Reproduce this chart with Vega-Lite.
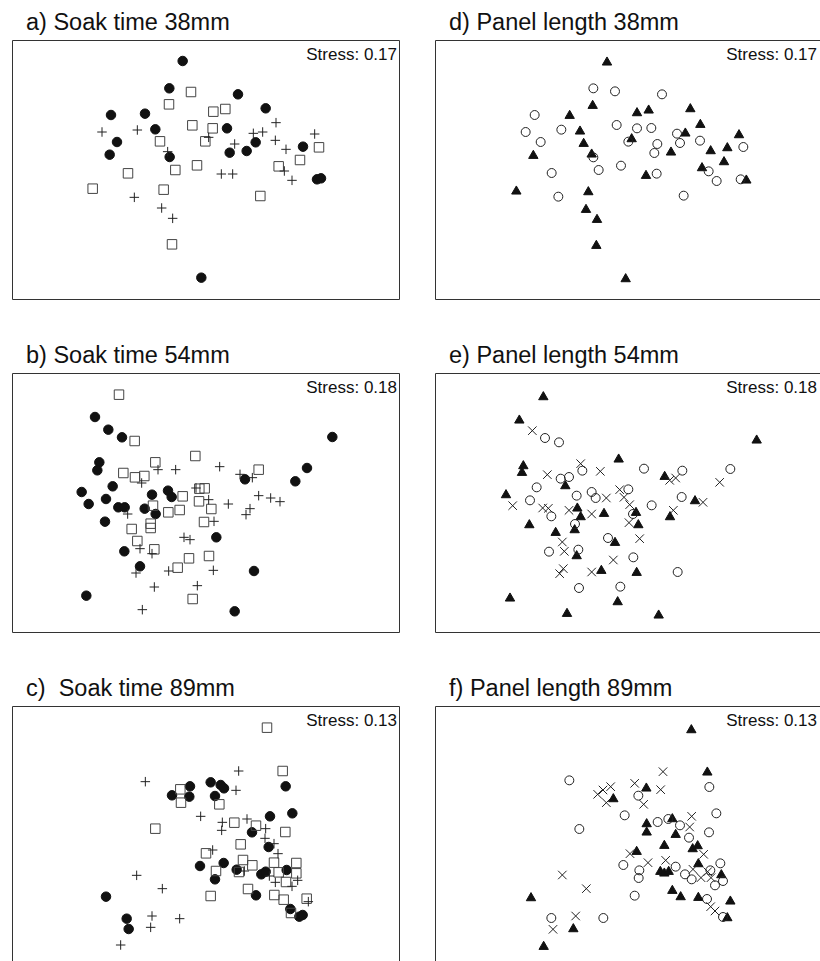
{
"$schema": "https://vega.github.io/schema/vega-lite/v6.json",
"background": "white",
"padding": {"left": 11, "top": 10, "right": 0, "bottom": 0},
"spacing": 43,
"config": {
  "view": {"stroke": "#333", "strokeWidth": 1},
  "title": {"anchor": "start", "frame": "group", "dx": 14, "offset": 6, "baseline": "alphabetic", "fontSize": 23.5, "font": "Liberation Sans", "fontWeight": "normal", "color": "#111"},
  "text": {"font": "Liberation Sans"}
},
"resolve": {"scale": {"x": "independent", "y": "independent", "shape": "independent", "fill": "independent", "stroke": "independent", "size": "independent"}},
"vconcat": [
{"hconcat": [
 {"title": {"text": "a) Soak time 38mm"}, "width": 387, "height": 259,
  "data": {"values": [
   {"x":-0.52,"y":3.17,"g":"A"},{"x":-0.92,"y":2.35,"g":"A"},{"x":1.14,"y":2.17,"g":"A"},{"x":1.97,"y":1.75,"g":"A"},{"x":-2.67,"y":1.55,"g":"A"},{"x":-1.65,"y":1.59,"g":"A"},{"x":-1.34,"y":1.12,"g":"A"},{"x":0.81,"y":1.15,"g":"A"},{"x":-2.49,"y":0.74,"g":"A"},{"x":1.67,"y":0.73,"g":"A"},{"x":3.09,"y":0.60,"g":"A"},{"x":-2.71,"y":0.36,"g":"A"},{"x":-0.91,"y":0.29,"g":"A"},{"x":0.89,"y":0.42,"g":"A"},{"x":1.40,"y":0.47,"g":"A"},{"x":3.51,"y":-0.38,"g":"A"},{"x":3.63,"y":-0.35,"g":"A"},{"x":0.04,"y":-3.33,"g":"A"},
   {"x":-0.27,"y":2.24,"g":"B"},{"x":-0.93,"y":1.87,"g":"B"},{"x":0.40,"y":1.65,"g":"B"},{"x":0.76,"y":1.73,"g":"B"},{"x":-0.23,"y":1.24,"g":"B"},{"x":0.38,"y":1.15,"g":"B"},{"x":-1.20,"y":0.76,"g":"B"},{"x":0.16,"y":0.76,"g":"B"},{"x":3.57,"y":0.58,"g":"B"},{"x":3.00,"y":0.20,"g":"B"},{"x":2.36,"y":0.01,"g":"B"},{"x":-2.16,"y":-0.20,"g":"B"},{"x":-0.74,"y":-0.10,"g":"B"},{"x":-0.09,"y":0.04,"g":"B"},{"x":-3.22,"y":-0.66,"g":"B"},{"x":-1.09,"y":-0.69,"g":"B"},{"x":1.81,"y":-0.88,"g":"B"},{"x":-0.84,"y":-2.33,"g":"B"},
   {"x":-2.94,"y":1.04,"g":"C"},{"x":-1.88,"y":1.10,"g":"C"},{"x":2.28,"y":1.32,"g":"C"},{"x":1.60,"y":1.00,"g":"C"},{"x":1.88,"y":1.04,"g":"C"},{"x":2.26,"y":0.79,"g":"C"},{"x":3.44,"y":0.98,"g":"C"},{"x":0.26,"y":0.88,"g":"C"},{"x":1.04,"y":0.68,"g":"C"},{"x":2.58,"y":0.52,"g":"C"},{"x":-0.97,"y":0.45,"g":"C"},{"x":0.64,"y":-0.22,"g":"C"},{"x":0.98,"y":-0.22,"g":"C"},{"x":2.53,"y":-0.13,"g":"C"},{"x":2.76,"y":-0.41,"g":"C"},{"x":-1.97,"y":-0.92,"g":"C"},{"x":-1.15,"y":-1.24,"g":"C"},{"x":-0.82,"y":-1.55,"g":"C"}
  ]},
  "layer": [
   {"mark": {"type": "point", "opacity": 1, "strokeWidth": 1},
    "encoding": {
     "x": {"field": "x", "type": "quantitative", "scale": {"domain": [-5.64, 5.97], "nice": false, "zero": false}, "axis": null},
     "y": {"field": "y", "type": "quantitative", "scale": {"domain": [-3.97, 3.80], "nice": false, "zero": false}, "axis": null},
     "shape": {"field": "g", "type": "nominal", "scale": {"domain": ["A","B","C"], "range": ["circle","square","M-1,0H1M0,-1V1"]}, "legend": null},
     "fill": {"field": "g", "type": "nominal", "scale": {"domain": ["A","B","C"], "range": ["#111","transparent","transparent"]}, "legend": null},
     "stroke": {"field": "g", "type": "nominal", "scale": {"domain": ["A","B","C"], "range": ["#111","#444","#222"]}, "legend": null},
     "size": {"field": "g", "type": "nominal", "scale": {"domain": ["A","B","C"], "range": [90, 90, 100]}, "legend": null}
    }},
   {"data": {"values": [{"label": "Stress: 0.17"}]},
    "mark": {"type": "text", "align": "right", "baseline": "alphabetic", "dx": -2, "dy": 20, "fontSize": 17, "color": "#111"},
    "encoding": {"x": {"datum": 5.97, "type": "quantitative", "axis": null}, "y": {"datum": 3.80, "type": "quantitative", "axis": null}, "text": {"field": "label"}}}
  ]},
 {"title": {"text": "d) Panel length 38mm"}, "width": 387, "height": 259,
  "data": {"values": [
   {"x":-0.06,"y":3.17,"g":"A"},{"x":-0.49,"y":1.87,"g":"A"},{"x":-1.18,"y":1.57,"g":"A"},{"x":0.84,"y":1.65,"g":"A"},{"x":1.19,"y":1.73,"g":"A"},{"x":2.44,"y":1.77,"g":"A"},{"x":-0.87,"y":1.10,"g":"A"},{"x":2.74,"y":1.30,"g":"A"},{"x":-0.76,"y":0.73,"g":"A"},{"x":2.29,"y":1.04,"g":"A"},{"x":3.90,"y":0.99,"g":"A"},{"x":-2.27,"y":0.37,"g":"A"},{"x":-0.52,"y":0.41,"g":"A"},{"x":0.68,"y":0.87,"g":"A"},{"x":1.86,"y":0.47,"g":"A"},{"x":3.05,"y":0.51,"g":"A"},{"x":3.55,"y":0.60,"g":"A"},{"x":3.45,"y":0.18,"g":"A"},{"x":2.79,"y":0.00,"g":"A"},{"x":1.11,"y":-0.23,"g":"A"},{"x":4.12,"y":-0.37,"g":"A"},{"x":-2.78,"y":-0.70,"g":"A"},{"x":-0.62,"y":-0.72,"g":"A"},{"x":-0.69,"y":-1.25,"g":"A"},{"x":-0.36,"y":-1.55,"g":"A"},{"x":-0.38,"y":-2.33,"g":"A"},{"x":0.50,"y":-3.33,"g":"A"},
   {"x":-0.47,"y":2.35,"g":"B"},{"x":0.18,"y":2.26,"g":"B"},{"x":1.59,"y":2.17,"g":"B"},{"x":-2.23,"y":1.55,"g":"B"},{"x":-2.50,"y":1.04,"g":"B"},{"x":-1.43,"y":1.11,"g":"B"},{"x":0.23,"y":1.25,"g":"B"},{"x":0.84,"y":1.15,"g":"B"},{"x":1.27,"y":1.16,"g":"B"},{"x":2.04,"y":0.99,"g":"B"},{"x":-2.05,"y":0.74,"g":"B"},{"x":0.58,"y":0.75,"g":"B"},{"x":1.45,"y":0.68,"g":"B"},{"x":1.36,"y":0.41,"g":"B"},{"x":2.13,"y":0.71,"g":"B"},{"x":2.73,"y":0.78,"g":"B"},{"x":4.03,"y":0.59,"g":"B"},{"x":-0.47,"y":0.28,"g":"B"},{"x":-0.31,"y":-0.10,"g":"B"},{"x":0.36,"y":0.03,"g":"B"},{"x":1.43,"y":-0.21,"g":"B"},{"x":2.99,"y":-0.14,"g":"B"},{"x":3.23,"y":-0.43,"g":"B"},{"x":3.95,"y":-0.38,"g":"B"},{"x":-1.72,"y":-0.19,"g":"B"},{"x":-1.52,"y":-0.90,"g":"B"},{"x":2.24,"y":-0.87,"g":"B"}
  ]},
  "layer": [
   {"mark": {"type": "point", "opacity": 1, "strokeWidth": 1},
    "encoding": {
     "x": {"field": "x", "type": "quantitative", "scale": {"domain": [-5.22, 6.39], "nice": false, "zero": false}, "axis": null},
     "y": {"field": "y", "type": "quantitative", "scale": {"domain": [-3.97, 3.80], "nice": false, "zero": false}, "axis": null},
     "shape": {"field": "g", "type": "nominal", "scale": {"domain": ["A","B","C"], "range": ["triangle-up","circle","M-1,-1L1,1M-1,1L1,-1"]}, "legend": null},
     "fill": {"field": "g", "type": "nominal", "scale": {"domain": ["A","B","C"], "range": ["#111","transparent","transparent"]}, "legend": null},
     "stroke": {"field": "g", "type": "nominal", "scale": {"domain": ["A","B","C"], "range": ["#111","#222","#222"]}, "legend": null},
     "size": {"field": "g", "type": "nominal", "scale": {"domain": ["A","B","C"], "range": [88, 72, 90]}, "legend": null}
    }},
   {"data": {"values": [{"label": "Stress: 0.17"}]},
    "mark": {"type": "text", "align": "right", "baseline": "alphabetic", "dx": -5, "dy": 20, "fontSize": 17, "color": "#111"},
    "encoding": {"x": {"datum": 6.39, "type": "quantitative", "axis": null}, "y": {"datum": 3.80, "type": "quantitative", "axis": null}, "text": {"field": "label"}}}
  ]}
 ], "spacing": 34, "resolve": {"scale": {"x": "independent", "y": "independent", "shape": "independent", "fill": "independent", "stroke": "independent", "size": "independent"}}},
{"hconcat": [
 {"title": {"text": "b) Soak time 54mm"}, "width": 387, "height": 259,
  "data": {"values": [
   {"x":-3.15,"y":2.40,"g":"A"},{"x":-2.75,"y":2.02,"g":"A"},{"x":-2.34,"y":1.79,"g":"A"},{"x":-3.02,"y":1.04,"g":"A"},{"x":-3.08,"y":0.80,"g":"A"},{"x":-2.62,"y":0.32,"g":"A"},{"x":-3.55,"y":0.15,"g":"A"},{"x":-2.82,"y":-0.06,"g":"A"},{"x":-3.34,"y":-0.21,"g":"A"},{"x":-2.45,"y":-0.31,"g":"A"},{"x":-2.26,"y":-0.31,"g":"A"},{"x":-1.66,"y":-0.35,"g":"A"},{"x":-1.44,"y":0.07,"g":"A"},{"x":-0.96,"y":0.19,"g":"A"},{"x":-0.85,"y":0.00,"g":"A"},{"x":-1.33,"y":-0.51,"g":"A"},{"x":-2.85,"y":-0.74,"g":"A"},{"x":1.35,"y":0.53,"g":"A"},{"x":3.97,"y":1.80,"g":"A"},{"x":3.21,"y":0.87,"g":"A"},{"x":2.86,"y":0.47,"g":"A"},{"x":0.49,"y":-1.21,"g":"A"},{"x":-2.27,"y":-1.63,"g":"A"},{"x":-1.80,"y":-2.08,"g":"A"},{"x":1.62,"y":-2.22,"g":"A"},{"x":-3.41,"y":-2.96,"g":"A"},{"x":1.04,"y":-3.43,"g":"A"},
   {"x":-2.43,"y":3.07,"g":"B"},{"x":-1.96,"y":1.68,"g":"B"},{"x":-0.14,"y":1.23,"g":"B"},{"x":-1.34,"y":1.04,"g":"B"},{"x":-2.30,"y":0.72,"g":"B"},{"x":-1.95,"y":0.59,"g":"B"},{"x":-1.67,"y":0.63,"g":"B"},{"x":1.76,"y":0.82,"g":"B"},{"x":-0.52,"y":0.02,"g":"B"},{"x":-0.02,"y":0.25,"g":"B"},{"x":0.14,"y":0.26,"g":"B"},{"x":-0.03,"y":-0.13,"g":"B"},{"x":-1.41,"y":-0.26,"g":"B"},{"x":-0.95,"y":-0.46,"g":"B"},{"x":-0.61,"y":-0.39,"g":"B"},{"x":0.34,"y":-0.36,"g":"B"},{"x":0.12,"y":-0.75,"g":"B"},{"x":-1.48,"y":-0.80,"g":"B"},{"x":-1.48,"y":-0.93,"g":"B"},{"x":-2.05,"y":-0.96,"g":"B"},{"x":-1.88,"y":-1.32,"g":"B"},{"x":-1.37,"y":-1.57,"g":"B"},{"x":-0.33,"y":-1.84,"g":"B"},{"x":0.27,"y":-1.77,"g":"B"},{"x":-0.67,"y":-2.12,"g":"B"},{"x":-0.22,"y":-3.06,"g":"B"},
   {"x":-1.26,"y":0.82,"g":"C"},{"x":-0.73,"y":0.82,"g":"C"},{"x":0.59,"y":0.91,"g":"C"},{"x":1.20,"y":0.68,"g":"C"},{"x":1.57,"y":0.58,"g":"C"},{"x":-1.75,"y":0.42,"g":"C"},{"x":-0.12,"y":0.27,"g":"C"},{"x":0.26,"y":-0.08,"g":"C"},{"x":0.85,"y":-0.21,"g":"C"},{"x":1.76,"y":0.04,"g":"C"},{"x":2.12,"y":-0.03,"g":"C"},{"x":2.40,"y":-0.14,"g":"C"},{"x":1.50,"y":-0.35,"g":"C"},{"x":1.38,"y":-0.53,"g":"C"},{"x":-2.17,"y":-0.51,"g":"C"},{"x":0.42,"y":-0.73,"g":"C"},{"x":-0.48,"y":-1.21,"g":"C"},{"x":-0.30,"y":-1.28,"g":"C"},{"x":-1.80,"y":-1.55,"g":"C"},{"x":-1.44,"y":-1.70,"g":"C"},{"x":-1.92,"y":-2.28,"g":"C"},{"x":-0.94,"y":-2.22,"g":"C"},{"x":0.40,"y":-2.20,"g":"C"},{"x":-1.37,"y":-2.70,"g":"C"},{"x":-0.08,"y":-2.66,"g":"C"},{"x":-1.73,"y":-3.38,"g":"C"}
  ]},
  "layer": [
   {"mark": {"type": "point", "opacity": 1, "strokeWidth": 1},
    "encoding": {
     "x": {"field": "x", "type": "quantitative", "scale": {"domain": [-5.64, 5.97], "nice": false, "zero": false}, "axis": null},
     "y": {"field": "y", "type": "quantitative", "scale": {"domain": [-4.05, 3.72], "nice": false, "zero": false}, "axis": null},
     "shape": {"field": "g", "type": "nominal", "scale": {"domain": ["A","B","C"], "range": ["circle","square","M-1,0H1M0,-1V1"]}, "legend": null},
     "fill": {"field": "g", "type": "nominal", "scale": {"domain": ["A","B","C"], "range": ["#111","transparent","transparent"]}, "legend": null},
     "stroke": {"field": "g", "type": "nominal", "scale": {"domain": ["A","B","C"], "range": ["#111","#444","#222"]}, "legend": null},
     "size": {"field": "g", "type": "nominal", "scale": {"domain": ["A","B","C"], "range": [90, 90, 100]}, "legend": null}
    }},
   {"data": {"values": [{"label": "Stress: 0.18"}]},
    "mark": {"type": "text", "align": "right", "baseline": "alphabetic", "dx": -2, "dy": 20, "fontSize": 17, "color": "#111"},
    "encoding": {"x": {"datum": 5.97, "type": "quantitative", "axis": null}, "y": {"datum": 3.72, "type": "quantitative", "axis": null}, "text": {"field": "label"}}}
  ]},
 {"title": {"text": "e) Panel length 54mm"}, "width": 387, "height": 259,
  "data": {"values": [
   {"x":-1.97,"y":3.07,"g":"A"},{"x":-2.69,"y":2.37,"g":"A"},{"x":0.29,"y":1.20,"g":"A"},{"x":-2.57,"y":1.00,"g":"A"},{"x":-2.61,"y":0.80,"g":"A"},{"x":4.43,"y":1.77,"g":"A"},{"x":1.67,"y":0.68,"g":"A"},{"x":-1.31,"y":0.40,"g":"A"},{"x":-3.09,"y":0.13,"g":"A"},{"x":2.58,"y":-0.05,"g":"A"},{"x":-0.95,"y":-0.27,"g":"A"},{"x":-0.85,"y":-0.53,"g":"A"},{"x":-0.15,"y":-0.43,"g":"A"},{"x":0.81,"y":-0.40,"g":"A"},{"x":1.83,"y":-0.53,"g":"A"},{"x":-2.39,"y":-0.77,"g":"A"},{"x":-1.60,"y":-1.00,"g":"A"},{"x":-1.03,"y":-0.92,"g":"A"},{"x":0.88,"y":-0.77,"g":"A"},{"x":0.18,"y":-1.30,"g":"A"},{"x":-0.97,"y":-1.70,"g":"A"},{"x":-0.23,"y":-2.14,"g":"A"},{"x":0.83,"y":-2.20,"g":"A"},{"x":-2.97,"y":-2.97,"g":"A"},{"x":0.26,"y":-3.08,"g":"A"},{"x":-1.26,"y":-3.43,"g":"A"},{"x":1.49,"y":-3.48,"g":"A"},
   {"x":-1.92,"y":1.80,"g":"B"},{"x":-1.50,"y":1.67,"g":"B"},{"x":-0.80,"y":0.82,"g":"B"},{"x":-1.20,"y":0.63,"g":"B"},{"x":-1.45,"y":0.58,"g":"B"},{"x":1.05,"y":0.88,"g":"B"},{"x":2.20,"y":0.82,"g":"B"},{"x":-2.17,"y":0.32,"g":"B"},{"x":-2.37,"y":-0.07,"g":"B"},{"x":-0.97,"y":0.07,"g":"B"},{"x":-0.52,"y":0.18,"g":"B"},{"x":-0.40,"y":0.00,"g":"B"},{"x":0.58,"y":0.26,"g":"B"},{"x":1.28,"y":-0.22,"g":"B"},{"x":2.18,"y":0.03,"g":"B"},{"x":3.64,"y":0.87,"g":"B"},{"x":-1.73,"y":-0.55,"g":"B"},{"x":0.72,"y":-0.48,"g":"B"},{"x":-1.02,"y":-0.78,"g":"B"},{"x":-0.03,"y":-1.20,"g":"B"},{"x":-1.80,"y":-1.61,"g":"B"},{"x":-0.92,"y":-1.55,"g":"B"},{"x":0.73,"y":-1.78,"g":"B"},{"x":2.06,"y":-2.22,"g":"B"},{"x":-0.90,"y":-2.70,"g":"B"},{"x":0.34,"y":-2.66,"g":"B"},
   {"x":-2.30,"y":2.02,"g":"C"},{"x":-0.85,"y":1.03,"g":"C"},{"x":-0.26,"y":0.80,"g":"C"},{"x":-1.85,"y":0.70,"g":"C"},{"x":1.82,"y":0.53,"g":"C"},{"x":2.00,"y":0.60,"g":"C"},{"x":3.32,"y":0.47,"g":"C"},{"x":-2.89,"y":-0.23,"g":"C"},{"x":-1.99,"y":-0.30,"g":"C"},{"x":-1.82,"y":-0.31,"g":"C"},{"x":-1.20,"y":-0.37,"g":"C"},{"x":-0.52,"y":-0.48,"g":"C"},{"x":-0.08,"y":0.00,"g":"C"},{"x":0.32,"y":0.25,"g":"C"},{"x":0.45,"y":0.02,"g":"C"},{"x":0.62,"y":-0.20,"g":"C"},{"x":0.60,"y":-0.74,"g":"C"},{"x":2.82,"y":-0.13,"g":"C"},{"x":1.93,"y":-0.37,"g":"C"},{"x":0.92,"y":-1.22,"g":"C"},{"x":-1.40,"y":-1.32,"g":"C"},{"x":-1.34,"y":-1.60,"g":"C"},{"x":0.13,"y":-1.86,"g":"C"},{"x":-1.48,"y":-2.27,"g":"C"},{"x":-1.37,"y":-2.12,"g":"C"},{"x":-0.52,"y":-2.22,"g":"C"}
  ]},
  "layer": [
   {"mark": {"type": "point", "opacity": 1, "strokeWidth": 1},
    "encoding": {
     "x": {"field": "x", "type": "quantitative", "scale": {"domain": [-5.22, 6.39], "nice": false, "zero": false}, "axis": null},
     "y": {"field": "y", "type": "quantitative", "scale": {"domain": [-4.02, 3.75], "nice": false, "zero": false}, "axis": null},
     "shape": {"field": "g", "type": "nominal", "scale": {"domain": ["A","B","C"], "range": ["triangle-up","circle","M-1,-1L1,1M-1,1L1,-1"]}, "legend": null},
     "fill": {"field": "g", "type": "nominal", "scale": {"domain": ["A","B","C"], "range": ["#111","transparent","transparent"]}, "legend": null},
     "stroke": {"field": "g", "type": "nominal", "scale": {"domain": ["A","B","C"], "range": ["#111","#222","#222"]}, "legend": null},
     "size": {"field": "g", "type": "nominal", "scale": {"domain": ["A","B","C"], "range": [88, 72, 90]}, "legend": null}
    }},
   {"data": {"values": [{"label": "Stress: 0.18"}]},
    "mark": {"type": "text", "align": "right", "baseline": "alphabetic", "dx": -5, "dy": 20, "fontSize": 17, "color": "#111"},
    "encoding": {"x": {"datum": 6.39, "type": "quantitative", "axis": null}, "y": {"datum": 3.75, "type": "quantitative", "axis": null}, "text": {"field": "label"}}}
  ]}
 ], "spacing": 34, "resolve": {"scale": {"x": "independent", "y": "independent", "shape": "independent", "fill": "independent", "stroke": "independent", "size": "independent"}}},
{"hconcat": [
 {"title": {"text": "c)\u00a0 Soak time 89mm"}, "width": 387, "height": 259,
  "data": {"values": [
   {"x":-0.30,"y":1.24,"g":"A"},{"x":-0.84,"y":0.97,"g":"A"},{"x":-0.32,"y":0.93,"g":"A"},{"x":0.32,"y":1.36,"g":"A"},{"x":0.62,"y":1.28,"g":"A"},{"x":0.72,"y":1.18,"g":"A"},{"x":0.45,"y":0.95,"g":"A"},{"x":2.57,"y":1.24,"g":"A"},{"x":2.77,"y":0.43,"g":"A"},{"x":2.10,"y":0.34,"g":"A"},{"x":1.56,"y":-0.14,"g":"A"},{"x":2.06,"y":-0.58,"g":"A"},{"x":0.00,"y":-1.15,"g":"A"},{"x":0.71,"y":-1.06,"g":"A"},{"x":0.45,"y":-1.55,"g":"A"},{"x":1.10,"y":-1.26,"g":"A"},{"x":1.84,"y":-1.40,"g":"A"},{"x":1.97,"y":-1.32,"g":"A"},{"x":2.60,"y":-1.27,"g":"A"},{"x":1.68,"y":-2.03,"g":"A"},{"x":2.71,"y":-2.44,"g":"A"},{"x":2.98,"y":-2.67,"g":"A"},{"x":3.08,"y":-2.62,"g":"A"},{"x":-2.82,"y":-2.07,"g":"A"},{"x":-2.20,"y":-2.73,"g":"A"},{"x":-2.14,"y":-3.04,"g":"A"},
   {"x":2.01,"y":3.00,"g":"B"},{"x":2.48,"y":1.70,"g":"B"},{"x":-0.59,"y":1.15,"g":"B"},{"x":-0.57,"y":0.75,"g":"B"},{"x":0.58,"y":0.70,"g":"B"},{"x":-1.34,"y":-0.03,"g":"B"},{"x":1.03,"y":0.15,"g":"B"},{"x":1.68,"y":0.06,"g":"B"},{"x":2.56,"y":-0.13,"g":"B"},{"x":1.22,"y":-0.50,"g":"B"},{"x":0.18,"y":-0.77,"g":"B"},{"x":1.29,"y":-0.97,"g":"B"},{"x":1.57,"y":-1.13,"g":"B"},{"x":1.17,"y":-1.33,"g":"B"},{"x":2.22,"y":-1.05,"g":"B"},{"x":0.48,"y":-1.30,"g":"B"},{"x":2.89,"y":-1.06,"g":"B"},{"x":2.89,"y":-1.37,"g":"B"},{"x":2.36,"y":-1.34,"g":"B"},{"x":2.58,"y":-1.63,"g":"B"},{"x":0.32,"y":-2.05,"g":"B"},{"x":1.44,"y":-1.84,"g":"B"},{"x":2.23,"y":-2.02,"g":"B"},{"x":2.51,"y":-2.16,"g":"B"},{"x":3.20,"y":-2.13,"g":"B"},{"x":2.73,"y":-2.56,"g":"B"},
   {"x":-1.64,"y":1.38,"g":"C"},{"x":1.16,"y":1.70,"g":"C"},{"x":1.08,"y":1.12,"g":"C"},{"x":0.02,"y":0.34,"g":"C"},{"x":0.67,"y":0.16,"g":"C"},{"x":0.65,"y":-0.08,"g":"C"},{"x":1.41,"y":0.26,"g":"C"},{"x":1.97,"y":-0.03,"g":"C"},{"x":1.95,"y":-0.32,"g":"C"},{"x":2.22,"y":-0.48,"g":"C"},{"x":2.34,"y":-0.78,"g":"C"},{"x":0.38,"y":-0.67,"g":"C"},{"x":1.33,"y":-1.30,"g":"C"},{"x":2.08,"y":-1.45,"g":"C"},{"x":2.26,"y":-1.64,"g":"C"},{"x":2.76,"y":-1.76,"g":"C"},{"x":2.93,"y":-1.58,"g":"C"},{"x":3.25,"y":-2.22,"g":"C"},{"x":-1.90,"y":-1.43,"g":"C"},{"x":-1.13,"y":-1.83,"g":"C"},{"x":-1.44,"y":-2.65,"g":"C"},{"x":-1.48,"y":-2.99,"g":"C"},{"x":-0.61,"y":-2.73,"g":"C"},{"x":-2.38,"y":-3.52,"g":"C"}
  ]},
  "layer": [
   {"mark": {"type": "point", "opacity": 1, "strokeWidth": 1},
    "encoding": {
     "x": {"field": "x", "type": "quantitative", "scale": {"domain": [-5.64, 5.97], "nice": false, "zero": false}, "axis": null},
     "y": {"field": "y", "type": "quantitative", "scale": {"domain": [-4.12, 3.65], "nice": false, "zero": false}, "axis": null},
     "shape": {"field": "g", "type": "nominal", "scale": {"domain": ["A","B","C"], "range": ["circle","square","M-1,0H1M0,-1V1"]}, "legend": null},
     "fill": {"field": "g", "type": "nominal", "scale": {"domain": ["A","B","C"], "range": ["#111","transparent","transparent"]}, "legend": null},
     "stroke": {"field": "g", "type": "nominal", "scale": {"domain": ["A","B","C"], "range": ["#111","#444","#222"]}, "legend": null},
     "size": {"field": "g", "type": "nominal", "scale": {"domain": ["A","B","C"], "range": [90, 90, 100]}, "legend": null}
    }},
   {"data": {"values": [{"label": "Stress: 0.13"}]},
    "mark": {"type": "text", "align": "right", "baseline": "alphabetic", "dx": -2, "dy": 20, "fontSize": 17, "color": "#111"},
    "encoding": {"x": {"datum": 5.97, "type": "quantitative", "axis": null}, "y": {"datum": 3.65, "type": "quantitative", "axis": null}, "text": {"field": "label"}}}
  ]},
 {"title": {"text": "f) Panel length 89mm"}, "width": 387, "height": 259,
  "data": {"values": [
   {"x":2.47,"y":2.97,"g":"A"},{"x":2.95,"y":1.70,"g":"A"},{"x":1.12,"y":1.22,"g":"A"},{"x":0.13,"y":0.90,"g":"A"},{"x":1.90,"y":0.30,"g":"A"},{"x":1.13,"y":0.15,"g":"A"},{"x":1.13,"y":-0.10,"g":"A"},{"x":2.00,"y":-0.17,"g":"A"},{"x":1.66,"y":-0.50,"g":"A"},{"x":2.51,"y":-0.60,"g":"A"},{"x":2.66,"y":-0.51,"g":"A"},{"x":0.83,"y":-0.68,"g":"A"},{"x":2.68,"y":-1.05,"g":"A"},{"x":1.54,"y":-1.28,"g":"A"},{"x":1.66,"y":-1.33,"g":"A"},{"x":1.79,"y":-1.28,"g":"A"},{"x":3.37,"y":-1.38,"g":"A"},{"x":1.90,"y":-1.85,"g":"A"},{"x":2.15,"y":-2.04,"g":"A"},{"x":2.68,"y":-2.06,"g":"A"},{"x":3.64,"y":-2.17,"g":"A"},{"x":3.55,"y":-2.67,"g":"A"},{"x":-2.34,"y":-2.07,"g":"A"},{"x":-1.07,"y":-3.00,"g":"A"},{"x":-1.96,"y":-3.53,"g":"A"},
   {"x":-1.19,"y":1.42,"g":"B"},{"x":3.01,"y":1.22,"g":"B"},{"x":0.88,"y":0.96,"g":"B"},{"x":0.47,"y":0.37,"g":"B"},{"x":1.46,"y":0.17,"g":"B"},{"x":1.78,"y":0.26,"g":"B"},{"x":3.22,"y":0.43,"g":"B"},{"x":2.13,"y":0.07,"g":"B"},{"x":3.00,"y":-0.14,"g":"B"},{"x":-0.89,"y":-0.04,"g":"B"},{"x":2.40,"y":-0.30,"g":"B"},{"x":0.43,"y":-1.12,"g":"B"},{"x":0.91,"y":-1.28,"g":"B"},{"x":0.89,"y":-1.51,"g":"B"},{"x":2.00,"y":-1.17,"g":"B"},{"x":2.28,"y":-1.40,"g":"B"},{"x":2.48,"y":-1.55,"g":"B"},{"x":3.04,"y":-1.28,"g":"B"},{"x":3.34,"y":-1.07,"g":"B"},{"x":3.42,"y":-1.60,"g":"B"},{"x":3.18,"y":-1.73,"g":"B"},{"x":0.77,"y":-2.04,"g":"B"},{"x":2.94,"y":-2.14,"g":"B"},{"x":3.42,"y":-2.68,"g":"B"},{"x":-1.73,"y":-2.71,"g":"B"},{"x":-0.17,"y":-2.71,"g":"B"},
   {"x":1.62,"y":1.68,"g":"C"},{"x":-0.34,"y":1.00,"g":"C"},{"x":-0.18,"y":1.13,"g":"C"},{"x":0.05,"y":1.23,"g":"C"},{"x":-0.08,"y":0.75,"g":"C"},{"x":0.77,"y":1.33,"g":"C"},{"x":1.55,"y":1.14,"g":"C"},{"x":1.04,"y":0.70,"g":"C"},{"x":2.48,"y":0.34,"g":"C"},{"x":2.42,"y":0.02,"g":"C"},{"x":0.63,"y":-0.78,"g":"C"},{"x":1.17,"y":-1.05,"g":"C"},{"x":1.70,"y":-0.98,"g":"C"},{"x":2.84,"y":-0.80,"g":"C"},{"x":2.52,"y":-1.25,"g":"C"},{"x":2.76,"y":-1.50,"g":"C"},{"x":2.96,"y":-1.32,"g":"C"},{"x":3.06,"y":-1.50,"g":"C"},{"x":3.18,"y":-2.50,"g":"C"},{"x":3.05,"y":-2.37,"g":"C"},{"x":-1.40,"y":-1.42,"g":"C"},{"x":-0.68,"y":-1.83,"g":"C"},{"x":-1.00,"y":-2.65,"g":"C"},{"x":-1.68,"y":-3.05,"g":"C"}
  ]},
  "layer": [
   {"mark": {"type": "point", "opacity": 1, "strokeWidth": 1},
    "encoding": {
     "x": {"field": "x", "type": "quantitative", "scale": {"domain": [-5.22, 6.39], "nice": false, "zero": false}, "axis": null},
     "y": {"field": "y", "type": "quantitative", "scale": {"domain": [-4.12, 3.65], "nice": false, "zero": false}, "axis": null},
     "shape": {"field": "g", "type": "nominal", "scale": {"domain": ["A","B","C"], "range": ["triangle-up","circle","M-1,-1L1,1M-1,1L1,-1"]}, "legend": null},
     "fill": {"field": "g", "type": "nominal", "scale": {"domain": ["A","B","C"], "range": ["#111","transparent","transparent"]}, "legend": null},
     "stroke": {"field": "g", "type": "nominal", "scale": {"domain": ["A","B","C"], "range": ["#111","#222","#222"]}, "legend": null},
     "size": {"field": "g", "type": "nominal", "scale": {"domain": ["A","B","C"], "range": [88, 72, 90]}, "legend": null}
    }},
   {"data": {"values": [{"label": "Stress: 0.13"}]},
    "mark": {"type": "text", "align": "right", "baseline": "alphabetic", "dx": -5, "dy": 20, "fontSize": 17, "color": "#111"},
    "encoding": {"x": {"datum": 6.39, "type": "quantitative", "axis": null}, "y": {"datum": 3.65, "type": "quantitative", "axis": null}, "text": {"field": "label"}}}
  ]}
 ], "spacing": 34, "resolve": {"scale": {"x": "independent", "y": "independent", "shape": "independent", "fill": "independent", "stroke": "independent", "size": "independent"}}}
]
}
